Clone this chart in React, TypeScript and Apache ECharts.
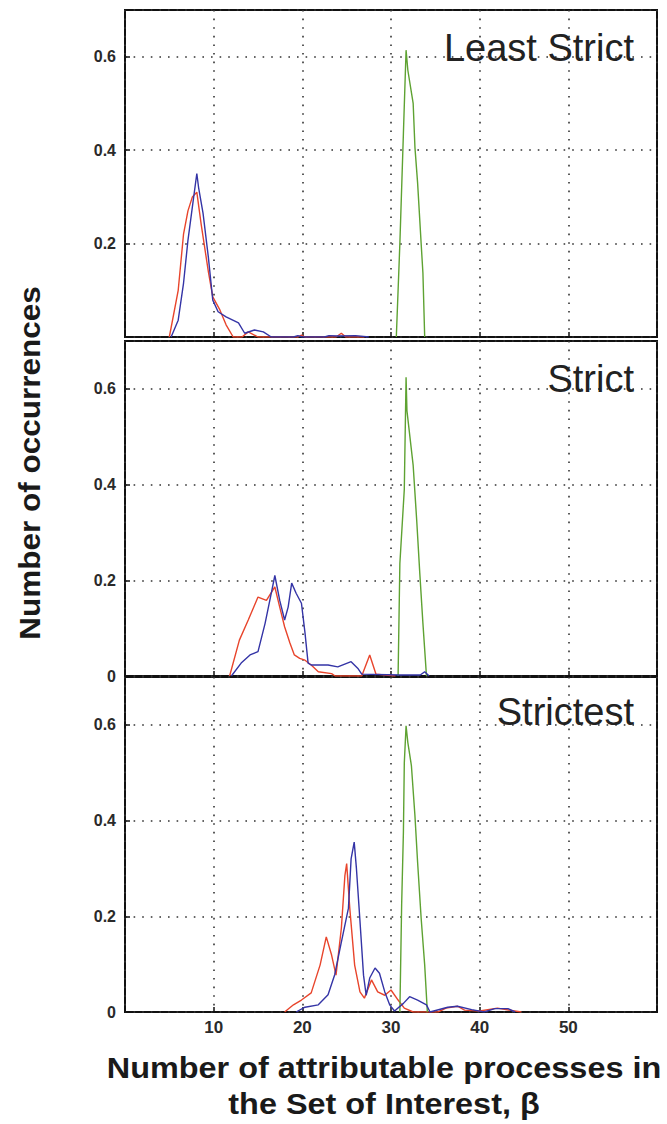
import React, { useEffect, useRef } from 'react';
import * as echarts from 'echarts';

// ---------- data ----------
const panelTitles = ['Least Strict', 'Strict', 'Strictest'];
const xMin = 0;
const xMax = 60;
const xStep = 10;
const yMin = 0;
const yMax = 0.7;
const yStep = 0.2;

const leastRed = [[5.0,0],[6.0,0.10],[6.6,0.22],[7.1,0.27],[7.6,0.30],[8.1,0.31],[8.6,0.24],[9.4,0.14],[9.9,0.086],[10.7,0.058],[11.4,0.026],[12.2,0],[13.2,0],[13.9,0.011],[15.0,0],[19.5,0],[19.9,0.004],[20.3,0],[23.8,0],[24.4,0.008],[24.9,0],[27,0]];
const leastBlue = [[5.2,0],[6.0,0.036],[6.6,0.115],[7.1,0.207],[7.7,0.293],[8.1,0.35],[8.3,0.32],[8.8,0.265],[9.4,0.171],[9.9,0.079],[10.5,0.054],[11.4,0.043],[12.8,0.03],[13.5,0.008],[14.6,0.015],[15.6,0.011],[16.5,0],[19,0],[19.5,0.003],[20,0],[22.5,0],[23,0.003],[24,0.002],[26,0.003],[27.5,0]];
const leastGreen = [[30.6,0],[31.0,0.2],[31.4,0.436],[31.7,0.614],[31.9,0.571],[32.5,0.50],[32.7,0.406],[33.0,0.33],[33.4,0.2],[33.6,0.137],[33.8,0]];

const strictRed = [[11.8,0],[12.9,0.075],[13.9,0.117],[15.0,0.165],[15.95,0.158],[16.9,0.186],[17.45,0.144],[18.0,0.103],[18.6,0.069],[19.1,0.044],[19.7,0.037],[20.3,0.033],[21.0,0.023],[21.8,0.009],[23.3,0.005],[23.7,0],[26.7,0],[27.6,0.044],[28.3,0.004],[30.5,0]];
const strictBlue = [[12.0,0],[13.1,0.027],[14.1,0.044],[15.0,0.051],[15.8,0.110],[16.5,0.173],[16.9,0.210],[17.45,0.158],[18.0,0.117],[18.4,0.144],[18.8,0.194],[19.3,0.173],[19.9,0.152],[20.3,0.090],[20.65,0.027],[21.0,0.023],[22.9,0.023],[24.0,0.019],[25.5,0.030],[26.3,0.015],[26.7,0.004],[31.0,0.002],[33.3,0.002],[33.8,0.009],[34.3,0]];
const strictGreen = [[30.8,0],[31.0,0.235],[31.5,0.39],[31.7,0.624],[31.8,0.554],[32.5,0.44],[32.9,0.325],[33.25,0.214],[33.6,0.11],[34.0,0]];

const strictestRed = [[18.0,0],[19.0,0.015],[19.9,0.025],[21.0,0.04],[22.0,0.098],[22.7,0.157],[23.3,0.119],[23.8,0.077],[24.4,0.175],[24.8,0.285],[25.0,0.31],[25.35,0.217],[25.9,0.098],[26.5,0.042],[27.0,0.029],[27.8,0.067],[28.5,0.042],[29.3,0.035],[30.0,0.046],[30.8,0.025],[31.5,0.008],[32.5,0],[35.3,0],[36.2,0.008],[37.5,0.012],[38.3,0.004],[40,0.002],[42,0.008],[44.7,0]];
const strictestBlue = [[19.3,0],[20.3,0.01],[21.8,0.015],[22.9,0.036],[23.65,0.078],[24.4,0.146],[25.2,0.217],[25.5,0.32],[25.85,0.355],[26.1,0.30],[26.5,0.19],[26.9,0.077],[27.2,0.035],[27.6,0.071],[28.2,0.092],[28.7,0.081],[29.3,0.042],[29.85,0.015],[30.4,0.002],[31.4,0.018],[32.1,0.032],[33.0,0.025],[34.0,0.015],[34.4,0],[36.4,0.01],[37.5,0.012],[39.1,0.005],[40.5,0],[41.7,0.007],[43.2,0.007],[44,0]];
const strictestGreen = [[31.0,0],[31.2,0.223],[31.4,0.376],[31.5,0.52],[31.7,0.598],[31.9,0.563],[32.3,0.515],[32.7,0.41],[33.0,0.313],[33.4,0.196],[33.8,0.098],[34.1,0]];

const panelData = [
  [leastRed, leastBlue, leastGreen],
  [strictRed, strictBlue, strictGreen],
  [strictestRed, strictestBlue, strictestGreen],
];
const seriesColors = ['#e8452c', '#3434a6', '#5ea232'];

const xTitleLines = ['Number of attributable processes in', 'the Set of Interest, β'];
const yTitle = 'Number of occurrences';

// ---------- layout ----------
const W = 667;
const H = 1124;
const gridRects = [
  { top: 10, height: 327 },
  { top: 341, height: 335 },
  { top: 677, height: 335 },
];
const titleCenters = [48, 379, 712];
const xTitleCenters = [1068, 1104];

export default function App() {
  const ref = useRef<HTMLDivElement>(null);
  useEffect(() => {
    if (!ref.current) return;
    const chart = echarts.init(ref.current, null, { renderer: 'svg' });
    const grids = gridRects.map((g) => ({
      left: 125,
      right: 10,
      top: g.top,
      height: g.height,
      show: true,
      borderColor: '#111',
      borderWidth: 2,
      backgroundColor: 'transparent',
    }));
    const dotted = { color: '#333', width: 1.6, type: [1.6, 7] as number[] };
    const xAxes = gridRects.map((_, i) => ({
      type: 'value',
      gridIndex: i,
      min: xMin,
      max: xMax,
      interval: xStep,
      axisLine: { show: false },
      axisTick: { show: true, inside: true, length: 5, lineStyle: { color: '#111', width: 1.5 } },
      splitLine: { show: true, lineStyle: dotted },
      axisLabel: {
        show: i === 2,
        margin: 7,
        showMinLabel: false,
        showMaxLabel: false,
        color: '#2a2a2a',
        fontSize: 17,
        fontWeight: 'bold',
        fontFamily: '"Liberation Sans", Arial, sans-serif',
        formatter: (v: number) => (v === xMin || v === xMax ? '' : String(v)),
      },
    }));
    const yAxes = gridRects.map((_, i) => ({
      type: 'value',
      gridIndex: i,
      min: yMin,
      max: yMax,
      interval: yStep,
      axisLine: { show: false },
      axisTick: { show: true, inside: true, length: 5, lineStyle: { color: '#111', width: 1.5 } },
      splitLine: { show: true, lineStyle: dotted },
      axisLabel: {
        margin: 9,
        color: '#2a2a2a',
        fontSize: 16,
        fontWeight: 'bold',
        fontFamily: '"Liberation Sans", Arial, sans-serif',
        formatter: (v: number) => {
          if (Math.abs(v - yMax) < 1e-9) return '';
          if (v === 0) return i === 0 ? '' : '0';
          return v.toFixed(1);
        },
      },
    }));
    const series: any[] = [];
    panelData.forEach((arr, p) => {
      arr.forEach((data, s) => {
        series.push({
          type: 'line',
          xAxisIndex: p,
          yAxisIndex: p,
          data,
          showSymbol: false,
          symbol: 'none',
          lineStyle: { color: seriesColors[s], width: 1.4 },
          z: 3 + (s === 2 ? 0 : s),
        });
      });
    });
    const graphic: any[] = panelTitles.map((t, i) => ({
      type: 'text',
      x: 634,
      y: titleCenters[i],
      z: 10,
      style: {
        text: t,
        fill: '#222',
        font: '38px "Liberation Sans", Arial, sans-serif',
        textAlign: 'right',
        textVerticalAlign: 'middle',
      },
    }));
    graphic.push({
      type: 'text',
      x: 30,
      y: 463,
      rotation: Math.PI / 2,
      scaleX: 1.05,
      style: {
        text: yTitle,
        fill: '#1a1a1a',
        font: 'bold 30px "Liberation Sans", Arial, sans-serif',
        textAlign: 'center',
        textVerticalAlign: 'middle',
      },
    });
    xTitleLines.forEach((t, i) => {
      graphic.push({
        type: 'text',
        x: 384,
        y: xTitleCenters[i],
        scaleX: 1.08,
        style: {
          text: t,
          fill: '#1a1a1a',
          font: 'bold 30px "Liberation Sans", Arial, sans-serif',
          textAlign: 'center',
          textVerticalAlign: 'middle',
        },
      });
    });
    chart.setOption({
      animation: false,
      backgroundColor: '#fff',
      grid: grids,
      xAxis: xAxes,
      yAxis: yAxes,
      series,
      graphic,
    });
    return () => chart.dispose();
  }, []);
  return (
    <div
      ref={ref}
      style={{ position: 'absolute', left: 0, top: 0, width: W, height: H }}
    />
  );
}
